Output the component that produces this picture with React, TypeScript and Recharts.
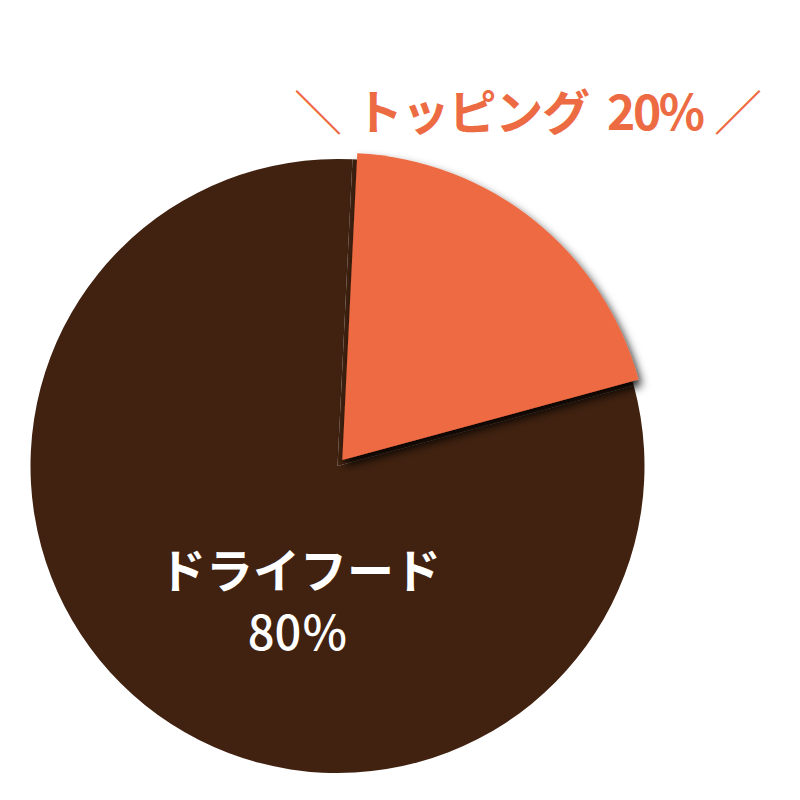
import React from 'react'
import { PieChart, Pie, Cell } from 'recharts'

const categories = ['トッピング', 'ドライフード']
const shares = [20, 80]
const colors = ['#ED6B43', '#412210']

const data = categories.map((name, i) => ({ name, value: shares[i] }))

const START = 87.2
const FONT = '"Noto Sans CJK JP", "Noto Sans", sans-serif'

export default function App() {
  return (
    <div style={{ position: 'absolute', left: 0, top: 0, width: 800, height: 800, background: '#fff' }}>
      <PieChart width={800} height={800} margin={{ top: 0, right: 0, bottom: 0, left: 0 }}>
        <defs>
          <filter id="sliceShadow" x="-20%" y="-20%" width="140%" height="140%">
            <feDropShadow dx="3" dy="6" stdDeviation="5" floodColor="#000" floodOpacity="0.9" />
          </filter>
        </defs>
        {/* base pie: brown fills the whole disc behind the exploded slice */}
        <Pie
          data={data}
          dataKey="value"
          cx={337.5}
          cy={466}
          outerRadius={307}
          startAngle={START}
          endAngle={START - 360}
          stroke="none"
          isAnimationActive={false}
        >
          {data.map((d) => (
            <Cell key={d.name} stroke="none" fill={colors[1]} />
          ))}
        </Pie>
        {/* exploded topping slice */}
        <Pie
          data={data}
          dataKey="value"
          cx={342.3}
          cy={460}
          outerRadius={307}
          startAngle={START}
          endAngle={START - 360}
          stroke="none"
          isAnimationActive={false}
          style={{ filter: 'url(#sliceShadow)' }}
        >
          {data.map((d, i) => (
            <Cell key={d.name} stroke="none" fill={i === 0 ? colors[0] : 'transparent'} />
          ))}
        </Pie>
      </PieChart>
      <svg width={800} height={800} style={{ position: 'absolute', left: 0, top: 0, pointerEvents: 'none' }}>
        <g fill={colors[0]} fontFamily={FONT} fontSize={48}>
          <text x={318} y={130} textAnchor="middle" fontWeight={400}>＼</text>
          <text x={355} y={130} fontWeight={700} textLength={235}>{categories[0]}</text>
          <text x={607} y={130} fontWeight={700} textLength={98}>{shares[0]}%</text>
          <text x={738} y={130} textAnchor="middle" fontWeight={400}>／</text>
        </g>
        <g fill="#fff" fontFamily={FONT} fontSize={47} textAnchor="middle">
          <text x={300} y={588} fontWeight={700}>{categories[1]}</text>
          <text x={298} y={650} fontWeight={500}>{shares[1]}％</text>
        </g>
      </svg>
    </div>
  )
}
